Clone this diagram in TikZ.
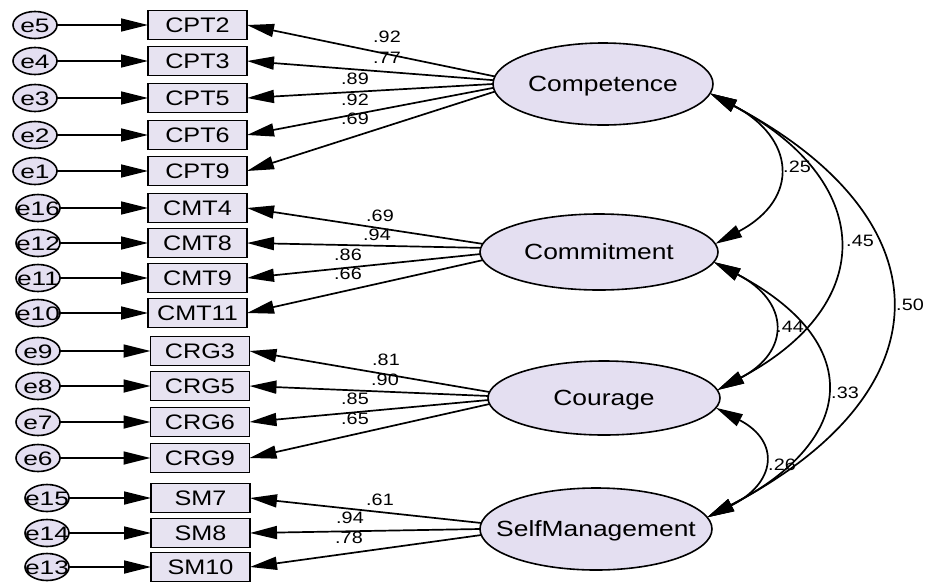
\documentclass[tikz,border=0pt]{standalone}
\usepackage{fontspec}
\setmainfont{Liberation Sans}
\usepackage{graphicx}
\usetikzlibrary{arrows.meta,shapes.geometric}
\definecolor{lav}{RGB}{228,223,241}
\definecolor{lavbox}{RGB}{231,227,241}
\newcommand{\myE}[1]{\makebox[0pt]{\scalebox{1.35}[1]{\fontsize{19.5}{19.5}\selectfont #1}}}
\newcommand{\myB}[1]{\makebox[0pt]{\scalebox{1.2}[1]{\fontsize{21}{21}\selectfont #1}}}
\newcommand{\myL}[1]{\makebox[0pt]{\scalebox{1.2}[1]{\fontsize{22}{22}\selectfont #1}}}
\newcommand{\myN}[1]{\scalebox{1.2}[1]{\fontsize{16.5}{16.5}\selectfont #1}}
\tikzset{
  every node/.style={inner sep=0pt, outer sep=0pt},
  err/.style={ellipse, draw, line width=1.6pt, fill=lav, minimum width=44pt, minimum height=27pt, text height=14pt, text depth=0pt},
  obs/.style={rectangle, draw, line width=1.8pt, fill=lavbox, minimum width=99pt, minimum height=29pt, text height=15pt, text depth=0pt},
  lat/.style={ellipse, draw, line width=1.6pt, fill=lav, text height=15.7pt, text depth=0pt},
  arr/.style={-{Triangle[length=27pt,width=13pt]}, line width=1.7pt},
  cov/.style={{Triangle[length=27pt,width=13pt]}-{Triangle[length=27pt,width=13pt]}, line width=1.7pt},
  num/.style={}
}
\begin{document}
\begin{tikzpicture}[x=1pt,y=-1pt]
\useasboundingbox (0,0) rectangle (926,582);
\fill[white] (0,0) rectangle (926,582);

% latent variables
\node[lat, minimum width=220pt, minimum height=82pt] (Competence) at (603,84) {\myL{Competence}};
\node[lat, minimum width=238pt, minimum height=76pt] (Commitment) at (599,252) {\myL{Commitment}};
\node[lat, minimum width=232pt, minimum height=74pt] (Courage) at (604,398) {\myL{Courage}};
\node[lat, minimum width=232pt, minimum height=82pt] (SelfManagement) at (596,529) {\myL{SelfManagement}};

% observed variables and errors
\foreach \b/\e/\y/\bx/\ex in {CPT2/e5/25/197.5/35, CPT3/e4/61/197.5/35, CPT5/e3/98/197.5/35, CPT6/e2/135/197.5/35, CPT9/e1/171/197.5/35,
  CMT4/e16/208/197.5/38, CMT8/e12/243/197.5/38, CMT9/e11/278/197.5/38, CMT11/e10/313/197.5/38,
  CRG3/e9/351/200/38, CRG5/e8/386/200/38, CRG6/e7/422/200/38, CRG9/e6/458/200/38,
  SM7/e15/498/200.5/47, SM8/e14/533/200.5/47, SM10/e13/567/200.5/47}{
  \node[obs] (\b) at (\bx,\y) {\myB{\b}};
  \node[err] (\e) at (\ex,\y) {\myE{\e}};
  \draw[arr] (\e) -- (\b);
}

% loadings
\draw[arr] (Competence.176) -- (CPT2.east);
\draw[arr] (Competence.178) -- (CPT3.east);
\draw[arr] (Competence.180) -- (CPT5.east);
\draw[arr] (Competence.182) -- (CPT6.east);
\draw[arr] (Competence.184) -- (CPT9.east);
\draw[arr] (Commitment.176) -- (CMT4.east);
\draw[arr] (Commitment.178.7) -- (CMT8.east);
\draw[arr] (Commitment.181.3) -- (CMT9.east);
\draw[arr] (Commitment.184) -- (CMT11.east);
\draw[arr] (Courage.177) -- (CRG3.east);
\draw[arr] (Courage.179) -- (CRG5.east);
\draw[arr] (Courage.181) -- (CRG6.east);
\draw[arr] (Courage.183) -- (CRG9.east);
\draw[arr] (SelfManagement.177) -- (SM7.east);
\draw[arr] (SelfManagement.180) -- (SM8.east);
\draw[arr] (SelfManagement.183) -- (SM10.east);

% loading labels
\node[num] (l1) at (387,37) {\myN{.92}};
\node[num] (l2) at (387,58) {\myN{.77}};
\node[num] (l3) at (355,79) {\myN{.89}};
\node[num] (l4) at (355,100) {\myN{.92}};
\node[num] (l5) at (355,119) {\myN{.69}};
\node[num] (l6) at (380,216) {\myN{.69}};
\node[num] (l7) at (377,235) {\myN{.94}};
\node[num] (l8) at (348,255) {\myN{.86}};
\node[num] (l9) at (348,274) {\myN{.66}};
\node[num] (l10) at (386,360) {\myN{.81}};
\node[num] (l11) at (385,380) {\myN{.90}};
\node[num] (l12) at (355,399) {\myN{.85}};
\node[num] (l13) at (355,419) {\myN{.65}};
\node[num] (l14) at (380,500) {\myN{.61}};
\node[num] (l15) at (350,518) {\myN{.94}};
\node[num] (l16) at (349,538) {\myN{.78}};

% covariances
\draw[cov] (Competence.-5) .. controls (795,137.6) and (801,198.4) .. (Commitment.4);
\draw[cov] (Competence.-5) .. controls (874,179.6) and (881,303.4) .. (Courage.4);
\draw[cov] (Competence.-5) .. controls (948,218.9) and (950,391) .. (SelfManagement.6);
\draw[cov] (Commitment.-5) .. controls (790,301.6) and (791,351.4) .. (Courage.4);
\draw[cov] (Commitment.-5) .. controls (864,340.9) and (860,439.1) .. (SelfManagement.6);
\draw[cov] (Courage.-5) .. controls (781,441.6) and (776,483.4) .. (SelfManagement.6);

\node[num] (c1) at (797,167) {\myN{.25}};
\node[num] (c2) at (860,241) {\myN{.45}};
\node[num] (c3) at (910,305) {\myN{.50}};
\node[num] (c4) at (790,327) {\myN{.44}};
\node[num] (c5) at (845,393) {\myN{.33}};
\node[num] (c6) at (782,465) {\myN{.26}};
\end{tikzpicture}
\end{document}
